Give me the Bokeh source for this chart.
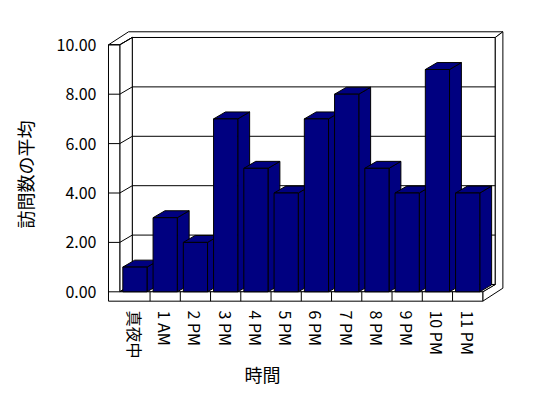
from bokeh.plotting import figure
from bokeh.models import Range1d, FixedTicker, NumeralTickFormatter, Title
from bokeh.embed import file_html
from bokeh.resources import INLINE

# ---- data ----
categories = ["真夜中", "1 AM", "2 PM", "3 PM", "4 PM", "5 PM",
              "6 PM", "7 PM", "8 PM", "9 PM", "10 PM", "11 PM"]
visits = [1, 3, 2, 7, 5, 4, 7, 8, 5, 4, 9, 4]
y_ticks = [0, 2, 4, 6, 8, 10]
y_top = 10
x_title = "時間"
y_title = "訪問数の平均"

# ---- 3D geometry (data units: categories along x, values along y) ----
N = len(categories)
DX, DY = 0.413, 0.296        # depth vector of the plot box
BTX, BTY = 0.251, 0.231      # back wall thickness vector
LT = 0.374                   # left wall thickness
FT = 0.38                    # floor thickness
BAR_GAP = 0.1
BAR_DEPTH = 0.95
BAR_COLOR = "#000080"
FONT = "Noto Sans CJK JP"


def P(x, y, d):
    """oblique projection; d in [0,1] inside box, (1,2] inside back wall"""
    if d <= 1:
        return x + d * DX, y + d * DY
    t = d - 1
    return x + DX + t * BTX, y + DY + t * BTY


def poly(pts):
    xy = [P(*q) for q in pts]
    return [a for a, _ in xy], [b for _, b in xy]


p = figure(width=540, height=398, output_backend="svg", toolbar_location=None,
           x_range=Range1d(-0.8033, 12.916), y_range=Range1d(-1.162, 10.66),
           min_border_left=95, min_border_right=30, min_border_top=28,
           min_border_bottom=78, background_fill_color="white",
           border_fill_color="white", outline_line_color=None)
p.grid.visible = False

# ---- walls and floor (white slabs) ----
wall_polys = [
    [(0, 0, 1), (N, 0, 1), (N, y_top, 1), (0, y_top, 1)],                       # back wall face
    [(-LT, y_top, 0), (0, y_top, 0), (0, y_top, 1), (N, y_top, 1),
     (N, y_top, 2), (-LT, y_top, 2)],                                           # top of walls
    [(N, -FT, 0), (N, 0, 0), (N, 0, 1), (N, y_top, 1), (N, y_top, 2), (N, -FT, 2)],  # right side
    [(0, 0, 0), (0, y_top, 0), (0, y_top, 1), (0, 0, 1)],                       # left wall inner face
    [(0, 0, 0), (N, 0, 0), (N, 0, 1), (0, 0, 1)],                               # floor top
    [(-LT, y_top, 0), (-LT, -FT, 0), (N, -FT, 0), (N, 0, 0), (0, 0, 0), (0, y_top, 0)],  # front L
]
wx, wy = zip(*[poly(w) for w in wall_polys])
p.patches(list(wx), list(wy), fill_color="white", line_color="black", line_width=1)

# gridlines and tick marks
gx, gy = [], []
for v in y_ticks:
    for seg in ([(0, v, 1), (N, v, 1)], [(0, v, 0), (0, v, 1)], [(-LT, v, 0), (0, v, 0)]):
        a, b = poly(seg)
        gx.append(a)
        gy.append(b)
for k in range(1, N):
    a, b = poly([(k, -FT, 0), (k, 0, 0)])
    gx.append(a)
    gy.append(b)
p.multi_line(gx, gy, line_color="black", line_width=1)

# ---- bars ----
bx, by = [], []
for i, v in enumerate(visits):
    x0, x1 = i + BAR_GAP, i + 1 - BAR_GAP
    faces = [
        [(x1, 0, 0), (x1, 0, BAR_DEPTH), (x1, v, BAR_DEPTH), (x1, v, 0)],
        [(x0, v, 0), (x1, v, 0), (x1, v, BAR_DEPTH), (x0, v, BAR_DEPTH)],
        [(x0, 0, 0), (x1, 0, 0), (x1, v, 0), (x0, v, 0)],
    ]
    for f in faces:
        a, b = poly(f)
        bx.append(a)
        by.append(b)
p.patches(bx, by, fill_color=BAR_COLOR, line_color="black", line_width=1)

# ---- axes ----
yax = p.yaxis[0]
yax.ticker = FixedTicker(ticks=y_ticks)
yax.formatter = NumeralTickFormatter(format="0.00")
yax.axis_line_color = None
yax.major_tick_line_color = None
yax.minor_tick_line_color = None
yax.major_label_standoff = -7
yax.major_label_text_font = FONT
yax.major_label_text_font_size = "16px"
yax.major_label_text_color = "black"
yax.axis_label = y_title
yax.axis_label_standoff = 16
yax.axis_label_text_font = FONT
yax.axis_label_text_font_size = "18px"
yax.axis_label_text_font_style = "normal"
yax.axis_label_text_color = "black"

xax = p.xaxis[0]
xax.ticker = FixedTicker(ticks=[i + 0.5 for i in range(N)])
xax.major_label_overrides = {i + 0.5: c for i, c in enumerate(categories)}
xax.major_label_orientation = "vertical"
xax.axis_line_color = None
xax.major_tick_line_color = None
xax.minor_tick_line_color = None
xax.major_label_standoff = -16
xax.major_label_text_font = FONT
xax.major_label_text_font_size = "16px"
xax.major_label_text_color = "black"

# ---- x title (placed under the category labels, as in the original) ----
p.add_layout(Title(text=x_title, align="left", offset=149, standoff=-6, text_font=FONT,
                   text_font_size="18px", text_font_style="normal",
                   text_color="black"), "below")

open("out.html", "w").write(file_html(p, INLINE))
